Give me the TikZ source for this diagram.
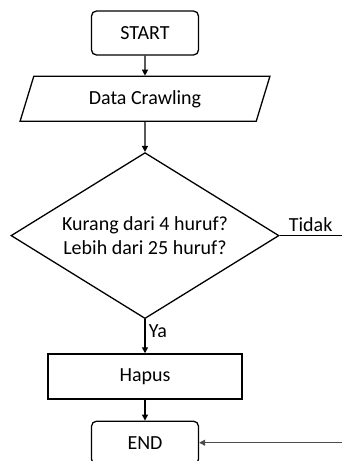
\documentclass[tikz,border=0pt]{standalone}
\usepackage{fontspec}
\setmainfont{Carlito}
\usepackage{tikz}
\usetikzlibrary{shapes.geometric, positioning, arrows.meta}
\tikzset{->,
         >={Triangle[width=6pt,length=6pt]},
         x=1pt, y=1pt,
         every node/.style={font=\fontsize{20}{24}\selectfont},
         terminal/.style={draw, rounded corners=5pt, minimum width=107pt, minimum height=44pt},
         io/.style={draw, trapezium, trapezium left angle=73, trapezium right angle=107,
                    trapezium stretches=true, minimum width=250pt, minimum height=45pt},
         decision/.style={draw, diamond, aspect=1.614, inner sep=0pt,
                          minimum width=268pt, minimum height=166pt, align=center},
         process/.style={draw, minimum width=194pt, minimum height=45pt},
         }

\begin{document}
\begin{tikzpicture}[line width=1.3pt]
    \useasboundingbox (0,0) rectangle (341,-461);
    \node[terminal] (start) at (145,-33) {START};
    \node[io, below=20pt of start] (crawl) {Data Crawling};
    \node[decision, below=30pt of crawl] (cek) {Kurang dari 4 huruf?\\Lebih dari 25 huruf?};
    \node[process, below=34pt of cek] (hapus) {Hapus};
    \node[terminal, below=21pt of hapus, minimum height=43pt] (end) {END};
    \path (cek.east) ++(70,0) coordinate (tidak);
    \path (end.east) ++(150,0) coordinate (balik);

    \draw   (start) edge (crawl)
            (crawl) edge (cek)
            (cek) edge node[right, pos=0.35] {Ya} (hapus)
            (hapus) edge (end)
            (cek.east) edge[-] node[above, xshift=-4pt] {Tidak} (tidak)
            (balik) edge[black!70] (end);
\end{tikzpicture}
\end{document}
